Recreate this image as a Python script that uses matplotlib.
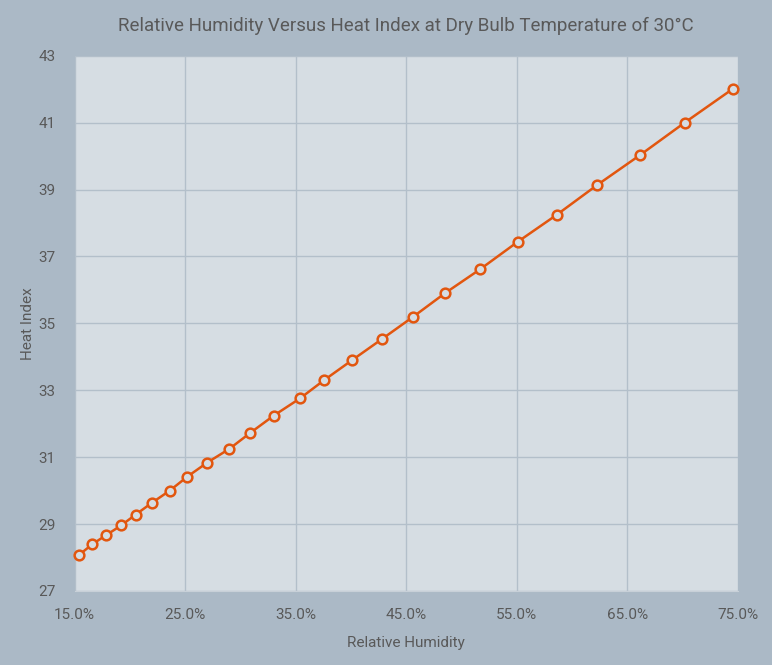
import matplotlib
matplotlib.use("Agg")
import matplotlib.pyplot as plt
from matplotlib.ticker import PercentFormatter

# relative humidity (%) and heat index
humidity = [15.4, 16.6, 17.8, 19.2, 20.5, 22.0, 23.6, 25.2, 27.0, 29.0,
            30.9, 33.0, 35.4, 37.6, 40.1, 42.8, 45.6, 48.5, 51.7, 55.1,
            58.6, 62.3, 66.2, 70.2, 74.6]
heat_index = [28.08, 28.40, 28.66, 28.96, 29.28, 29.64, 30.00, 30.42, 30.84, 31.25,
              31.73, 32.24, 32.76, 33.31, 33.90, 34.53, 35.19, 35.90, 36.62, 37.44,
              38.24, 39.14, 40.04, 41.00, 42.02]
x_ticks = [15, 25, 35, 45, 55, 65, 75]
y_ticks = [27, 29, 31, 33, 35, 37, 39, 41, 43]

outer_bg = "#abb9c6"
plot_bg = "#d6dde3"
grid_col = "#b3bfca"
line_col = "#e2560f"
text_col = "#595959"

plt.rcParams['font.family'] = ['Roboto', 'DejaVu Sans']

fig = plt.figure(figsize=(7.72, 6.65), dpi=100, facecolor=outer_bg)
ax = fig.add_axes([0.0968, 0.1113, 0.8588, 0.8049])
ax.set_facecolor(plot_bg)

ax.plot(humidity, heat_index, color=line_col, linewidth=1.8, marker="o",
        markersize=7, markerfacecolor=plot_bg, markeredgecolor=line_col,
        markeredgewidth=1.8, clip_on=False, zorder=3)

ax.set_xlim(15, 75)
ax.set_ylim(27, 43)
ax.set_xticks(x_ticks)
ax.set_yticks(y_ticks)
ax.xaxis.set_major_formatter(PercentFormatter(decimals=1))

ax.grid(True, color=grid_col, linewidth=1)
ax.set_axisbelow(True)
for side in ["top", "right", "left"]:
    ax.spines[side].set_visible(False)
ax.spines["bottom"].set_color("#c8d0d8")

ax.tick_params(length=0, labelsize=11, colors=text_col, pad=12)
ax.tick_params(axis="y", pad=14)

ax.set_xlabel("Relative Humidity", fontsize=11, color=text_col, labelpad=10)
ax.set_ylabel("Heat Index", fontsize=11, color=text_col, labelpad=2)
ax.set_title("Relative Humidity Versus Heat Index at Dry Bulb Temperature of 30°C",
             fontsize=13.5, color=text_col, pad=18)

fig.savefig("out.png", dpi=100, facecolor=outer_bg)
